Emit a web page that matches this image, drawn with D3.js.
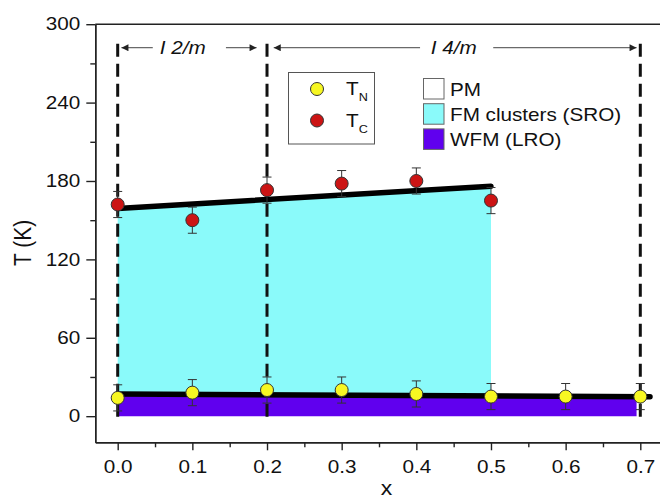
<!DOCTYPE html>
<html>
<head>
<meta charset="utf-8">
<script src="https://cdn.jsdelivr.net/npm/d3@7"></script>
<style>
  body { margin: 0; background: #fff; }
  svg { display: block; font-family: "Liberation Sans", Arial, sans-serif; }
  .axis path, .axis line { stroke: #222; stroke-width: 1.4; }
  .axis text { font-size: 18px; fill: #111; }
</style>
</head>
<body>
<div class="chart"></div>
<script>
// data
var xVals = [0, 0.1, 0.2, 0.3, 0.4, 0.5, 0.6, 0.7];
var tN = [14, 18, 20, 20, 17, 15, 15, 15];
var tNErr = [10, 10, 10, 10, 10, 10, 10, 10];
var xTc = [0, 0.1, 0.2, 0.3, 0.4, 0.5];
var tC = [162, 150, 173, 178, 180, 165];
var tCErr = [10, 10, 10, 10, 10, 10];

// straight fits drawn in the figure
var tcFit = [[0, 159], [0.5, 176]];
var tnFit = [[0, 17], [0.713, 14.9]];

// phase boundaries
var boundaries = [0, 0.2, 0.7];
var xTicks = [0, 0.1, 0.2, 0.3, 0.4, 0.5, 0.6, 0.7];
var yTicks = [0, 60, 120, 180, 240, 300];

var legendItems = ["PM", "FM clusters (SRO)", "WFM (LRO)"];
var legendColors = ["#ffffff", "#8afafa", "#6000ee"];

var W = 660, H = 501;
var stretchX = 1.15; // the original figure's text is a bit wide

var x = d3.scaleLinear().domain([-0.03, 0.73]).range([95.3, 662.7]);
var y = d3.scaleLinear().domain([-20, 300]).range([442.3, 24.2]);

// move x/y of a text into a transform so it can be widened around its anchor
function stretch(sel, rot) {
  sel.each(function() {
    var t = d3.select(this);
    var tx = +t.attr("x") || 0, ty = +t.attr("y") || 0;
    t.attr("x", 0).attr("y", 0)
     .attr("transform", "translate(" + tx + "," + ty + ") scale(" + stretchX + ",1)" + (rot ? " rotate(" + rot + ")" : ""));
  });
}

var svg = d3.select(".chart").append("svg")
    .attr("width", W)
    .attr("height", H);

var defs = svg.append("defs");
defs.append("marker")
    .attr("id", "head")
    .attr("viewBox", "0 0 10 10")
    .attr("refX", 10).attr("refY", 5)
    .attr("markerWidth", 9).attr("markerHeight", 7)
    .attr("markerUnits", "userSpaceOnUse")
    .attr("orient", "auto")
  .append("path")
    .attr("d", "M0,0 L10,5 L0,10 z")
    .attr("fill", "#222");

var tnAt = function(v) {
  return tnFit[0][1] + (tnFit[1][1] - tnFit[0][1]) * (v - tnFit[0][0]) / (tnFit[1][0] - tnFit[0][0]);
};
var tcAt = function(v) {
  return tcFit[0][1] + (tcFit[1][1] - tcFit[0][1]) * (v - tcFit[0][0]) / (tcFit[1][0] - tcFit[0][0]);
};

var area = d3.area()
    .x(function(d) { return x(d[0]); })
    .y0(function(d) { return y(d[1]); })
    .y1(function(d) { return y(d[2]); });

// purple WFM region: 0 .. TN line
svg.append("path")
    .datum([[0, 0, tnAt(0)], [0.695, 0, tnAt(0.695)]])
    .attr("d", area)
    .attr("fill", legendColors[2]);

// cyan cluster region: TN line .. TC line
svg.append("path")
    .datum([[0, tnAt(0), tcAt(0)], [0.5, tnAt(0.5), tcAt(0.5)]])
    .attr("d", area)
    .attr("fill", legendColors[1]);

// dashed boundaries
svg.selectAll(".bound")
    .data(boundaries)
    .enter().append("line")
    .attr("class", "bound")
    .attr("x1", function(d) { return x(d); })
    .attr("x2", function(d) { return x(d); })
    .attr("y1", y(285))
    .attr("y2", y(-2))
    .attr("stroke", "#111")
    .attr("stroke-width", 3)
    .attr("stroke-dasharray", "13,7");

// fit lines
var line = d3.line()
    .x(function(d) { return x(d[0]); })
    .y(function(d) { return y(d[1]); });

[tcFit, tnFit].forEach(function(f) {
  svg.append("path")
      .datum(f)
      .attr("d", line)
      .attr("fill", "none")
      .attr("stroke", "#000")
      .attr("stroke-width", 5.5)
      .attr("stroke-linecap", "round");
});

// error bars + points
function drawSeries(xs, ys, errs, color) {
  var g = svg.append("g");
  var pts = xs.map(function(v, i) { return {x: v, y: ys[i], e: errs[i]}; });
  var eb = g.selectAll(".eb").data(pts).enter().append("g");
  eb.append("line")
      .attr("x1", function(d) { return x(d.x); })
      .attr("x2", function(d) { return x(d.x); })
      .attr("y1", function(d) { return y(d.y + d.e); })
      .attr("y2", function(d) { return y(d.y - d.e); })
      .attr("stroke", "#333").attr("stroke-width", 1);
  [1, -1].forEach(function(s) {
    eb.append("line")
        .attr("x1", function(d) { return x(d.x) - 4.5; })
        .attr("x2", function(d) { return x(d.x) + 4.5; })
        .attr("y1", function(d) { return y(d.y + s * d.e); })
        .attr("y2", function(d) { return y(d.y + s * d.e); })
        .attr("stroke", "#333").attr("stroke-width", 1);
  });
  g.selectAll("circle").data(pts).enter().append("circle")
      .attr("cx", function(d) { return x(d.x); })
      .attr("cy", function(d) { return y(d.y); })
      .attr("r", 6.5)
      .attr("fill", color)
      .attr("stroke", "#333")
      .attr("stroke-width", 1);
}
drawSeries(xVals, tN, tNErr, "#f7f722");
drawSeries(xTc, tC, tCErr, "#cc1414");

// arrows with space group labels
var arrowY = 282;
var arrows = [[0.047, 0.005], [0.145, 0.186], [0.405, 0.209], [0.503, 0.695]];
svg.selectAll(".arrow")
    .data(arrows)
    .enter().append("line")
    .attr("x1", function(d) { return x(d[0]); })
    .attr("x2", function(d) { return x(d[1]); })
    .attr("y1", y(arrowY))
    .attr("y2", y(arrowY))
    .attr("stroke", "#444")
    .attr("stroke-width", 1)
    .attr("marker-end", "url(#head)");

var groupLabels = [["I 2/m", 0.087], ["I 4/m", 0.45]];
svg.selectAll(".grp")
    .data(groupLabels)
    .enter().append("text")
    .attr("x", function(d) { return x(d[1]); })
    .attr("y", y(arrowY) + 6.5)
    .attr("text-anchor", "middle")
    .attr("font-size", 18)
    .attr("font-style", "italic")
    .attr("fill", "#111")
    .text(function(d) { return d[0]; })
    .call(stretch);

// legend for symbols
var lg = svg.append("g");
lg.append("rect")
    .attr("x", 288.5).attr("y", 72.5)
    .attr("width", 86).attr("height", 71.5)
    .attr("fill", "none").attr("stroke", "#555").attr("stroke-width", 1);
var symLegend = [["N", "#f7f722", 89], ["C", "#cc1414", 120.5]];
symLegend.forEach(function(s) {
  lg.append("circle")
      .attr("cx", 317).attr("cy", s[2]).attr("r", 6.5)
      .attr("fill", s[1]).attr("stroke", "#333").attr("stroke-width", 1);
  var t = lg.append("text")
      .attr("x", 346).attr("y", s[2] + 6)
      .attr("font-size", 18).attr("fill", "#111");
  t.append("tspan").text("T");
  t.append("tspan").attr("dy", 6).attr("font-size", 11).text(s[0]);
  t.call(stretch);
});

// legend for regions
var rg = svg.append("g");
legendItems.forEach(function(name, i) {
  var top = 78.5 + i * 25.2;
  rg.append("rect")
      .attr("x", 423.5).attr("y", top)
      .attr("width", 20.5).attr("height", 20.5)
      .attr("fill", legendColors[i])
      .attr("stroke", "#666").attr("stroke-width", 1);
  rg.append("text")
      .attr("x", 450).attr("y", top + 17.5)
      .attr("font-size", 18).attr("fill", "#111")
      .text(name)
      .call(stretch);
});

// frame and axes
svg.append("line")
    .attr("x1", x(-0.03)).attr("x2", x(0.73))
    .attr("y1", y(300)).attr("y2", y(300))
    .attr("stroke", "#222").attr("stroke-width", 1.4);

var xMinor = [0.05, 0.15, 0.25, 0.35, 0.45, 0.55, 0.65];
svg.append("g")
    .attr("class", "axis")
    .attr("transform", "translate(0," + y(-20) + ")")
    .call(d3.axisBottom(x).tickValues(xMinor).tickSize(5).tickFormat("").tickSizeOuter(0));
svg.append("g")
    .attr("class", "axis")
    .attr("transform", "translate(0," + y(-20) + ")")
    .call(d3.axisBottom(x).tickValues(xTicks).tickSize(8).tickPadding(10)
          .tickFormat(d3.format(".1f")).tickSizeOuter(0))
    .selectAll("text").call(stretch);

var yMinor = [30, 90, 150, 210, 270];
svg.append("g")
    .attr("class", "axis")
    .attr("transform", "translate(" + x(-0.03) + ",0)")
    .call(d3.axisLeft(y).tickValues(yMinor).tickSize(5).tickFormat("").tickSizeOuter(0));
svg.append("g")
    .attr("class", "axis")
    .attr("transform", "translate(" + x(-0.03) + ",0)")
    .call(d3.axisLeft(y).tickValues(yTicks).tickSize(9).tickPadding(6)
          .tickFormat(d3.format("d")).tickSizeOuter(0))
    .selectAll("text").call(stretch);

svg.append("text")
    .attr("x", 31).attr("y", 243)
    .attr("text-anchor", "middle")
    .attr("font-size", 21)
    .attr("fill", "#111")
    .text("T (K)")
    .call(stretch, -90);

svg.append("text")
    .attr("x", x(0.36)).attr("y", 495)
    .attr("text-anchor", "middle")
    .attr("font-size", 20)
    .attr("fill", "#111")
    .text("x")
    .call(stretch);
</script>
</body>
</html>
